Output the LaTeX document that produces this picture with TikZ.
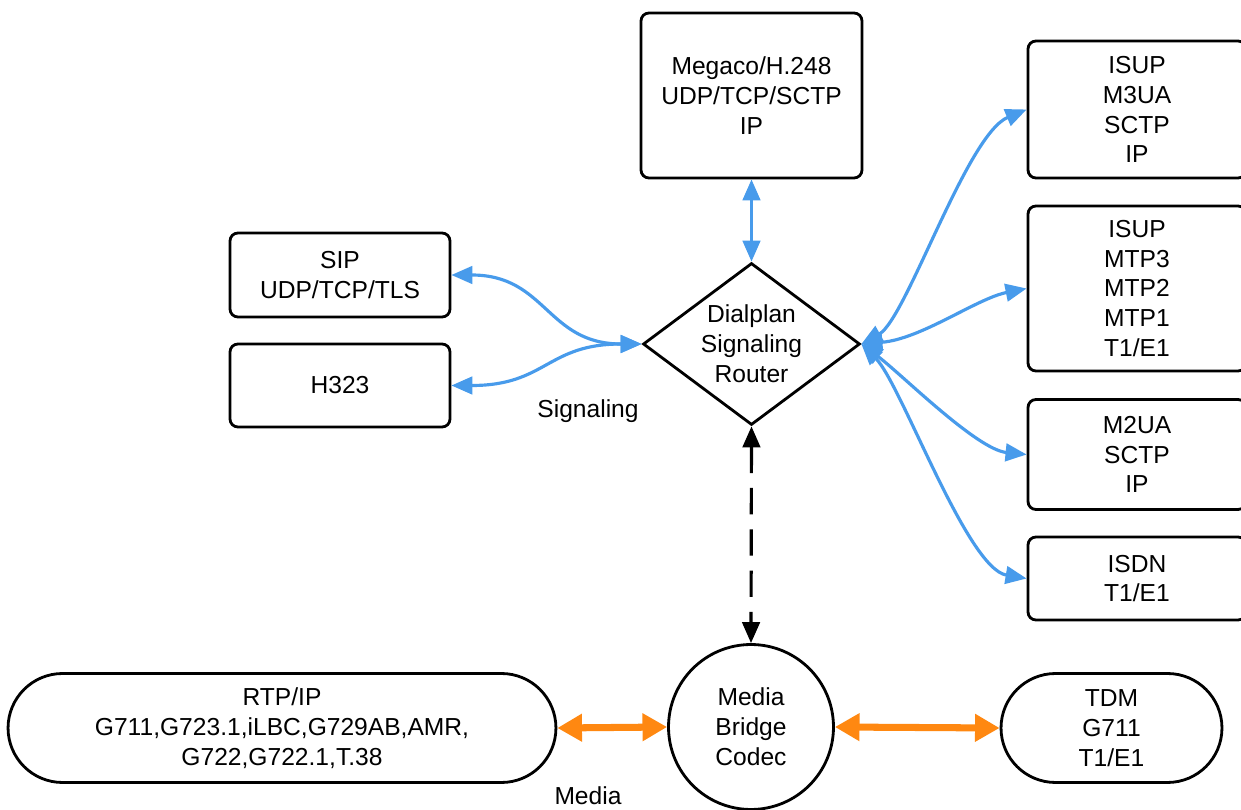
\documentclass[tikz,border=0pt]{standalone}
\usepackage{fontspec}
\setmainfont{Liberation Sans}
\usetikzlibrary{arrows.meta,shapes.geometric}
\definecolor{sigblue}{RGB}{72,155,235}
\definecolor{medorange}{RGB}{255,136,17}
\begin{document}
\begin{tikzpicture}[x=0.02cm,y=-0.02cm,
  every node/.style={font=\fontsize{14}{17}\selectfont, align=center, inner sep=0pt},
  box/.style={draw, line width=1.6pt, rounded corners=4.5pt, rectangle},
  pill/.style={draw, line width=1.6pt, rounded corners=1.09cm, rectangle, minimum height=2.18cm},
  sig/.style={draw=sigblue, line width=1.8pt, {Triangle[length=12pt,width=10pt]}-{Triangle[length=12pt,width=10pt]}},
  med/.style={draw=medorange, line width=4pt, {Triangle[length=14pt,width=15pt]}-{Triangle[length=14pt,width=15pt]}},
  ctl/.style={draw=black, line width=1.8pt, dash pattern=on 15pt off 8.5pt, {Triangle[length=12pt,width=10pt]}-{Triangle[length=12pt,width=10pt]}},
  lbl/.style={font=\fontsize{14}{17}\selectfont}
]
\useasboundingbox (0,0) rectangle (1241,810);

% nodes
\node[box, minimum width=4.42cm, minimum height=3.30cm] (meg) at (751.5,95.5) {Megaco/H.248\\UDP/TCP/SCTP\\IP};
\node[box, minimum width=4.36cm, minimum height=2.74cm] (m3ua) at (1137,109.5) {ISUP\\M3UA\\SCTP\\IP};
\node[box, minimum width=4.36cm, minimum height=3.30cm] (mtp) at (1137,288.5) {ISUP\\MTP3\\MTP2\\MTP1\\T1/E1};
\node[box, minimum width=4.36cm, minimum height=2.20cm] (m2ua) at (1137,454.5) {M2UA\\SCTP\\IP};
\node[box, minimum width=4.36cm, minimum height=1.66cm] (isdn) at (1137,578.5) {ISDN\\T1/E1};
\node[box, minimum width=4.40cm, minimum height=1.68cm] (sip) at (340,275) {SIP\\UDP/TCP/TLS};
\node[box, minimum width=4.40cm, minimum height=1.66cm] (h323) at (340,385.5) {H323};
\node[draw, line width=1.6pt, shape=diamond, aspect=1.34, minimum width=4.34cm, minimum height=3.24cm] (dia) at (751.5,344) {Dialplan\\Signaling\\Router};
\node[draw, line width=1.6pt, shape=circle, minimum size=3.30cm] (mbc) at (751,727) {Media\\Bridge\\Codec};
\node[pill, minimum width=10.96cm] (rtp) at (282,728) {RTP/IP\\G711,G723.1,iLBC,G729AB,AMR,\\G722,G722.1,T.38};
\node[pill, minimum width=4.42cm] (tdm) at (1111.5,728) {TDM\\G711\\T1/E1};
\node[lbl] (siglbl) at (588,411) {Signaling};
\node[lbl] (medlbl) at (588,796) {Media};

% signaling connectors
\draw[sig] (meg.south) -- (dia.north);
\draw[sig] (sip.east) .. controls +(95,0) and +(-95,0) .. (dia.west);
\draw[sig] (h323.east) .. controls +(95,0) and +(-95,0) .. (dia.west);
\draw[sig] (dia.east) .. controls +(45,-25) and +(-60,25) .. (m3ua.west);
\draw[sig] (dia.east) .. controls +(60,-5) and +(-50,10) .. (mtp.west);
\draw[sig] (dia.east) .. controls +(40,30) and +(-50,-5) .. (m2ua.west);
\draw[sig] (dia.east) .. controls +(40,40) and +(-60,-10) .. (isdn.west);

% control link
\draw[ctl] (dia.south) -- (mbc.north);

% media connectors
\draw[med] (rtp.east) -- (mbc.west);
\draw[med] (mbc.east) -- (tdm.west);
\end{tikzpicture}
\end{document}
